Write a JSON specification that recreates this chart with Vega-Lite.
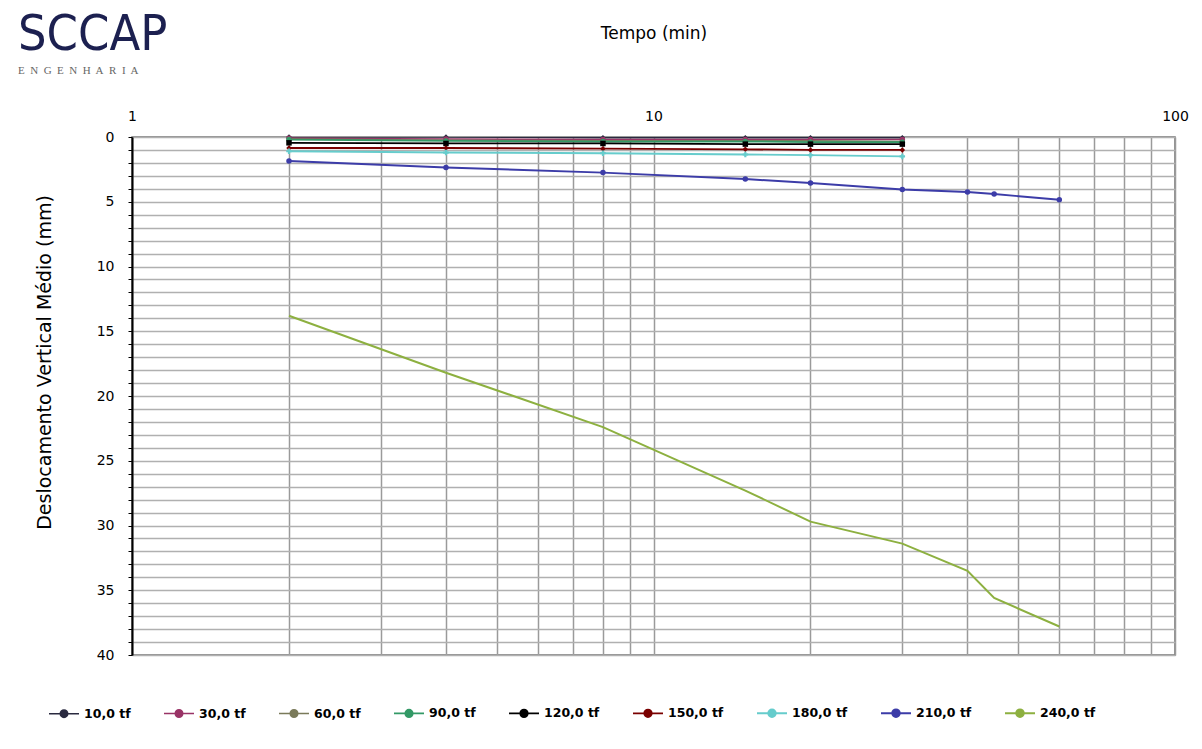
{
  "$schema": "https://vega.github.io/schema/vega-lite/v6.json",
  "autosize": "none",
  "width": 1043,
  "height": 518,
  "padding": {"left": 132, "top": 137, "right": 27, "bottom": 94},
  "background": "white",
  "title": {
    "text": "SCCAP",
    "subtitle": "E\u00a0 N\u00a0 G\u00a0 E\u00a0 N\u00a0 H\u00a0 A\u00a0 R\u00a0 I\u00a0 A",
    "anchor": "start",
    "frame": "group",
    "orient": "top",
    "font": "DejaVu Sans Condensed",
    "fontSize": 50,
    "fontWeight": "normal",
    "color": "#1c2050",
    "subtitleFont": "Liberation Serif",
    "subtitleFontSize": 11,
    "subtitleColor": "#666666",
    "subtitlePadding": 5,
    "offset": 0,
    "dx": -114,
    "dy": 52
  },
  "data": {
    "values": [
      {"t": 2, "d": 0.0, "s": "10,0 tf"},
      {"t": 4, "d": 0.0, "s": "10,0 tf"},
      {"t": 8, "d": 0.05, "s": "10,0 tf"},
      {"t": 15, "d": 0.05, "s": "10,0 tf"},
      {"t": 20, "d": 0.05, "s": "10,0 tf"},
      {"t": 30, "d": 0.05, "s": "10,0 tf"},
      {"t": 2, "d": 0.1, "s": "30,0 tf"},
      {"t": 4, "d": 0.15, "s": "30,0 tf"},
      {"t": 8, "d": 0.2, "s": "30,0 tf"},
      {"t": 15, "d": 0.2, "s": "30,0 tf"},
      {"t": 20, "d": 0.2, "s": "30,0 tf"},
      {"t": 30, "d": 0.2, "s": "30,0 tf"},
      {"t": 2, "d": 0.15, "s": "60,0 tf"},
      {"t": 4, "d": 0.25, "s": "60,0 tf"},
      {"t": 8, "d": 0.3, "s": "60,0 tf"},
      {"t": 15, "d": 0.3, "s": "60,0 tf"},
      {"t": 20, "d": 0.3, "s": "60,0 tf"},
      {"t": 30, "d": 0.35, "s": "60,0 tf"},
      {"t": 2, "d": 0.2, "s": "90,0 tf"},
      {"t": 4, "d": 0.3, "s": "90,0 tf"},
      {"t": 8, "d": 0.35, "s": "90,0 tf"},
      {"t": 15, "d": 0.35, "s": "90,0 tf"},
      {"t": 20, "d": 0.4, "s": "90,0 tf"},
      {"t": 30, "d": 0.4, "s": "90,0 tf"},
      {"t": 2, "d": 0.45, "s": "120,0 tf"},
      {"t": 4, "d": 0.5, "s": "120,0 tf"},
      {"t": 8, "d": 0.5, "s": "120,0 tf"},
      {"t": 15, "d": 0.55, "s": "120,0 tf"},
      {"t": 20, "d": 0.55, "s": "120,0 tf"},
      {"t": 30, "d": 0.55, "s": "120,0 tf"},
      {"t": 2, "d": 0.85, "s": "150,0 tf"},
      {"t": 4, "d": 0.85, "s": "150,0 tf"},
      {"t": 8, "d": 0.9, "s": "150,0 tf"},
      {"t": 15, "d": 0.95, "s": "150,0 tf"},
      {"t": 20, "d": 1.0, "s": "150,0 tf"},
      {"t": 30, "d": 1.0, "s": "150,0 tf"},
      {"t": 2, "d": 1.1, "s": "180,0 tf"},
      {"t": 4, "d": 1.2, "s": "180,0 tf"},
      {"t": 8, "d": 1.25, "s": "180,0 tf"},
      {"t": 15, "d": 1.35, "s": "180,0 tf"},
      {"t": 20, "d": 1.4, "s": "180,0 tf"},
      {"t": 30, "d": 1.5, "s": "180,0 tf"},
      {"t": 2, "d": 1.85, "s": "210,0 tf"},
      {"t": 4, "d": 2.35, "s": "210,0 tf"},
      {"t": 8, "d": 2.75, "s": "210,0 tf"},
      {"t": 15, "d": 3.25, "s": "210,0 tf"},
      {"t": 20, "d": 3.55, "s": "210,0 tf"},
      {"t": 30, "d": 4.05, "s": "210,0 tf"},
      {"t": 40, "d": 4.25, "s": "210,0 tf"},
      {"t": 45, "d": 4.4, "s": "210,0 tf"},
      {"t": 60, "d": 4.85, "s": "210,0 tf"},
      {"t": 2, "d": 13.8, "s": "240,0 tf"},
      {"t": 4, "d": 18.2, "s": "240,0 tf"},
      {"t": 8, "d": 22.4, "s": "240,0 tf"},
      {"t": 15, "d": 27.3, "s": "240,0 tf"},
      {"t": 20, "d": 29.7, "s": "240,0 tf"},
      {"t": 30, "d": 31.4, "s": "240,0 tf"},
      {"t": 40, "d": 33.5, "s": "240,0 tf"},
      {"t": 45, "d": 35.6, "s": "240,0 tf"},
      {"t": 60, "d": 37.8, "s": "240,0 tf"}
    ]
  },
  "encoding": {
    "x": {
      "field": "t",
      "type": "quantitative",
      "scale": {"type": "log", "domain": [1, 100], "nice": false},
      "axis": {
        "orient": "top",
        "title": "Tempo (min)",
        "values": [1, 2, 3, 4, 5, 6, 7, 8, 9, 10, 20, 30, 40, 50, 60, 70, 80, 90, 100],
        "labelExpr": "datum.value == 1 || datum.value == 10 || datum.value == 100 ? datum.value : ''",
        "labelFont": "DejaVu Sans",
        "labelFontSize": 14,
        "labelColor": "#000000",
        "labelPadding": 14,
        "labelFlush": false,
        "labelOverlap": false,
        "ticks": false,
        "domain": false,
        "grid": true,
        "gridColor": "#9a9a9a",
        "gridWidth": 1.5,
        "titleFont": "DejaVu Sans",
        "titleFontSize": 17,
        "titleFontWeight": "normal",
        "titleColor": "#000000",
        "titlePadding": 67
      }
    },
    "y": {
      "field": "d",
      "type": "quantitative",
      "scale": {"domain": [0, 40], "reverse": true, "nice": false, "zero": true},
      "axis": {
        "title": "Deslocamento Vertical Médio (mm)",
        "values": [0, 1, 2, 3, 4, 5, 6, 7, 8, 9, 10, 11, 12, 13, 14, 15, 16, 17, 18, 19, 20, 21, 22, 23, 24, 25, 26, 27, 28, 29, 30, 31, 32, 33, 34, 35, 36, 37, 38, 39, 40],
        "labelExpr": "datum.value % 5 == 0 ? datum.value : ''",
        "labelFont": "DejaVu Sans",
        "labelFontSize": 14,
        "labelColor": "#000000",
        "labelPadding": 14,
        "labelOverlap": false,
        "labelFlush": false,
        "tickColor": "#000000",
        "tickSize": 4,
        "domainColor": "#000000",
        "domainWidth": 2,
        "grid": true,
        "gridColor": "#b0b0b0",
        "gridWidth": 1.5,
        "titleFont": "DejaVu Sans",
        "titleFontSize": 19,
        "titleFontWeight": "normal",
        "titleColor": "#000000",
        "titleY": 225,
        "titlePadding": 42
      }
    },
    "color": {
      "field": "s",
      "type": "nominal",
      "scale": {
        "domain": ["10,0 tf", "30,0 tf", "60,0 tf", "90,0 tf", "120,0 tf", "150,0 tf", "180,0 tf", "210,0 tf", "240,0 tf"],
        "range": ["#2a2a40", "#993366", "#7a7a5a", "#339966", "#000000", "#7a0000", "#66cccc", "#3c3ca8", "#8db040"]
      },
      "legend": {
        "title": null,
        "orient": "none",
        "direction": "horizontal",
        "legendX": -84,
        "legendY": 560,
        "symbolType": "M-1,0H-0.25M0.25,0H1M-0.25,0A0.25,0.25 0 1 1 0.25,0A0.25,0.25 0 1 1 -0.25,0Z",
        "symbolSize": 900,
        "symbolStrokeWidth": 2,
        "labelFont": "DejaVu Sans",
        "labelFontSize": 12.5,
        "labelFontWeight": "bold",
        "labelColor": "#000000",
        "columnPadding": 29,
        "labelOffset": 4
      }
    }
  },
  "layer": [
    {
      "mark": {"type": "line", "clip": true},
      "encoding": {
        "strokeWidth": {
          "field": "s",
          "type": "nominal",
          "scale": {
            "domain": ["10,0 tf", "30,0 tf", "60,0 tf", "90,0 tf", "120,0 tf", "150,0 tf", "180,0 tf", "210,0 tf", "240,0 tf"],
            "range": [1.5, 2, 2, 2, 3.5, 3, 2, 2, 3.5]
          },
          "legend": null
        }
      }
    },
    {
      "transform": [{"filter": "datum.s != '240,0 tf'"}],
      "mark": {"type": "point", "filled": true, "size": 30, "opacity": 1},
      "encoding": {
        "shape": {
          "field": "s",
          "type": "nominal",
          "scale": {
            "domain": ["10,0 tf", "30,0 tf", "60,0 tf", "90,0 tf", "120,0 tf", "150,0 tf", "180,0 tf", "210,0 tf"],
            "range": ["diamond", "circle", "triangle-up", "circle", "square", "diamond", "cross", "circle"]
          },
          "legend": null
        }
      }
    }
  ],
  "config": {
    "view": {"stroke": "#707070", "strokeWidth": 1.5}
  }
}
